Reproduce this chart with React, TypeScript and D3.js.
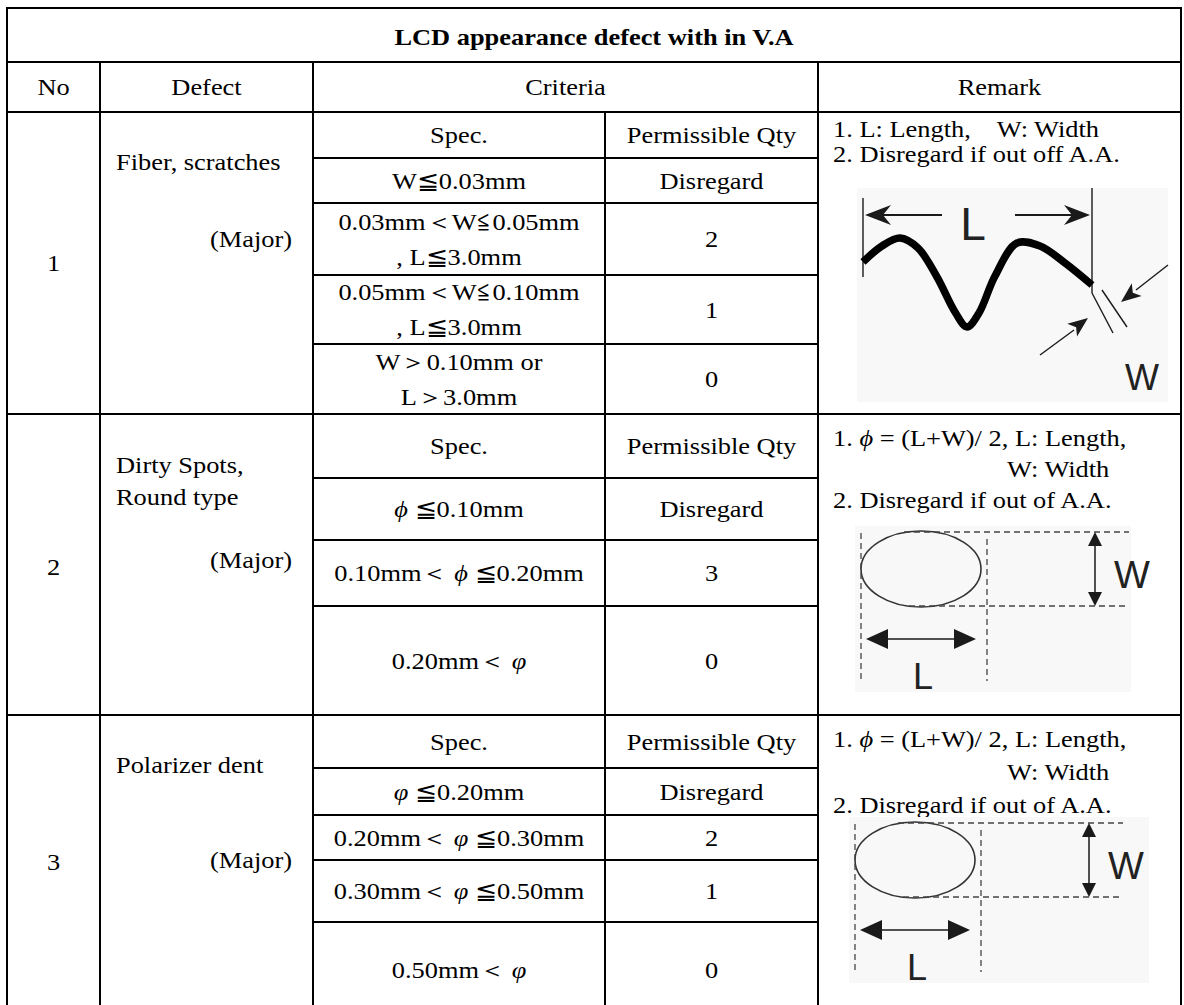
import React, { useEffect, useRef } from "react";
import * as d3 from "d3";

// table content
const title = "LCD appearance defect with in V.A";
const headers = ["No", "Defect", "Criteria", "Remark"];
const subHeaders = ["Spec.", "Permissible Qty"];
const defectNo = ["1", "2", "3"];
const defectName = [["Fiber, scratches"], ["Dirty Spots,", "Round type"], ["Polarizer dent"]];
const defectLevel = ["(Major)", "(Major)", "(Major)"];

const specs1 = [["W≦0.03mm"], ["0.03mm＜W≦0.05mm", ", L≦3.0mm"], ["0.05mm＜W≦0.10mm", ", L≦3.0mm"], ["W＞0.10mm or", "L＞3.0mm"]];
const qty1 = ["Disregard", "2", "1", "0"];
const specs2 = [["ϕ ≦0.10mm"], ["0.10mm＜ ϕ ≦0.20mm"], ["0.20mm＜ φ"]];
const qty2 = ["Disregard", "3", "0"];
const specs3 = [["φ ≦0.20mm"], ["0.20mm＜ φ ≦0.30mm"], ["0.30mm＜ φ ≦0.50mm"], ["0.50mm＜ φ"]];
const qty3 = ["Disregard", "2", "1", "0"];

const remark1 = ["1. L: Length,    W: Width", "2. Disregard if out off A.A."];
const remark2 = ["1. ϕ = (L+W)/ 2, L: Length,", "W: Width", "2. Disregard if out of A.A."];
const remark3 = ["1. ϕ = (L+W)/ 2, L: Length,", "W: Width", "2. Disregard if out of A.A."];

// layout
const W = 1184;
const H = 1005;
const colX = [7, 100, 313, 605, 818, 1181];
const topY = 8;
const titleH = 54;
const headerH = 50;
const rowHeights = [
  [46, 45, 72, 69, 70],
  [64, 62, 66, 109],
  [53, 47, 45, 62, 95],
];
const nameOffset = [50, 51, 50];
const levelOffset = [127, 146, 145];

const serif = '"Liberation Serif", "Times New Roman", serif';
const sans = '"Liberation Sans", Arial, sans-serif';
const FS = 24;
const SX = 1.1; // the source text is a little wider than plain Times

const App: React.FC = () => {
  const svgRef = useRef<SVGSVGElement>(null);

  useEffect(() => {
    document.body.style.margin = "0";
    const svg = d3.select(svgRef.current).attr("width", W).attr("height", H);
    svg.selectAll("*").remove();
    svg.append("rect").attr("width", W).attr("height", H).attr("fill", "#fff");

    const gText = svg.append("g");
    const gDraw = svg.append("g");
    const gLine = svg.append("g").attr("stroke", "#000").attr("stroke-width", 2);

    const addText = (str: string, x: number, y: number, anchor = "middle", bold = false) => {
      const t = gText
        .append("text")
        .attr("transform", `translate(${x},${y}) scale(${SX},1)`)
        .attr("dy", "0.34em")
        .attr("text-anchor", anchor)
        .attr("font-family", serif)
        .attr("font-size", FS)
        .attr("font-weight", bold ? "bold" : "normal")
        .style("white-space", "pre");
      str.split(/([φϕ])/).forEach((part) => {
        if (!part) return;
        const ts = t.append("tspan").text(part);
        if (/[φϕ]/.test(part)) ts.attr("font-style", "italic");
      });
    };

    const hLine = (y: number, x1: number, x2: number) =>
      gLine.append("line").attr("x1", x1).attr("x2", x2).attr("y1", y).attr("y2", y);
    const vLine = (x: number, y1: number, y2: number) =>
      gLine.append("line").attr("x1", x).attr("x2", x).attr("y1", y1).attr("y2", y2);

    const titleBottom = topY + titleH;
    const headerBottom = titleBottom + headerH;
    const bottom = H + 10;

    // outer frame + header lines
    hLine(topY, colX[0] - 1, colX[5] + 1);
    hLine(titleBottom, colX[0], colX[5]);
    hLine(headerBottom, colX[0], colX[5]);
    vLine(colX[0], topY, bottom);
    vLine(colX[5], topY, bottom);
    [colX[1], colX[2], colX[4]].forEach((x) => vLine(x, titleBottom, bottom));
    vLine(colX[3], headerBottom, bottom);

    addText(title, (colX[0] + colX[5]) / 2, topY + titleH / 2 + 2, "middle", true);
    const headerMid = titleBottom + headerH / 2;
    addText(headers[0], (colX[0] + colX[1]) / 2, headerMid);
    addText(headers[1], (colX[1] + colX[2]) / 2, headerMid);
    addText(headers[2], (colX[2] + colX[4]) / 2, headerMid);
    addText(headers[3], (colX[4] + colX[5]) / 2, headerMid);

    const sections = [
      { specs: specs1, qty: qty1 },
      { specs: specs2, qty: qty2 },
      { specs: specs3, qty: qty3 },
    ];

    let y0 = headerBottom;
    const sectionTops: number[] = [];
    sections.forEach((sec, si) => {
      sectionTops.push(y0);
      const heights = rowHeights[si];
      const cum = [0, ...Array.from(d3.cumsum(heights))];
      const secH = cum[cum.length - 1];
      const yAt = d3.scaleLinear().domain([0, secH]).range([y0, y0 + secH]);

      if (si > 0) hLine(y0, colX[0], colX[5]);
      cum.slice(1, -1).forEach((c) => hLine(yAt(c), colX[2], colX[4]));

      const rows = [[subHeaders[0]], ...sec.specs];
      const qtys = [subHeaders[1], ...sec.qty];
      rows.forEach((lines, ri) => {
        const mid = yAt((cum[ri] + cum[ri + 1]) / 2);
        lines.forEach((ln, li) => {
          const dy = (li - (lines.length - 1) / 2) * 35;
          addText(ln, (colX[2] + colX[3]) / 2, mid + dy);
        });
        addText(qtys[ri], (colX[3] + colX[4]) / 2, mid);
      });

      // No / Defect
      const visibleBottom = Math.min(y0 + secH, H);
      addText(defectNo[si], (colX[0] + colX[1]) / 2, (y0 + visibleBottom) / 2 + (si === 0 ? 0 : 2));
      defectName[si].forEach((ln, li) => addText(ln, colX[1] + 16, y0 + nameOffset[si] + li * 32, "start"));
      addText(defectLevel[si], colX[2] - 21, y0 + levelOffset[si], "end");

      y0 += secH;
    });

    // Remark texts
    const rx = colX[4] + 15;
    remark1.forEach((ln, i) => addText(ln, rx, sectionTops[0] + 17 + i * 25, "start"));
    [remark2, remark3].forEach((rm, k) => {
      const top = sectionTops[k + 1];
      const gap = k === 0 ? 31 : 33;
      rm.forEach((ln, i) => addText(ln, i === 1 ? colX[4] + 189 : rx, top + 24 + i * gap, "start"));
    });

    // ---------- drawings ----------
    const ink = "#1a1a1a";
    const tri = (tx: number, ty: number, ang: number, len: number, half: number, notch = 0) => {
      const ca = Math.cos(ang), sa = Math.sin(ang);
      const bx = tx - ca * len, by = ty - sa * len;
      const p1 = [bx - sa * half, by + ca * half];
      const p2 = [bx + sa * half, by - ca * half];
      const n = [tx - ca * (len - notch), ty - sa * (len - notch)];
      const pts = notch ? [[tx, ty], p1, n, p2] : [[tx, ty], p1, p2];
      gDraw.append("path").attr("d", d3.line()(pts as [number, number][]) + "Z").attr("fill", ink);
    };
    const seg = (x1: number, y1: number, x2: number, y2: number, w = 1.4, dash?: string) => {
      const l = gDraw
        .append("line")
        .attr("x1", x1).attr("y1", y1).attr("x2", x2).attr("y2", y2)
        .attr("stroke", ink).attr("stroke-width", w);
      if (dash) l.attr("stroke-dasharray", dash).attr("stroke", "#444");
    };
    const letter = (s: string, x: number, y: number, size: number) =>
      gDraw.append("text").attr("x", x).attr("y", y).attr("text-anchor", "middle")
        .attr("font-family", sans).attr("font-size", size).attr("fill", "#222").text(s);

    // Fiber / scratch figure
    const fx = colX[4], fy = sectionTops[0];
    gDraw.append("rect").attr("x", fx + 39).attr("y", fy + 76).attr("width", 311).attr("height", 214).attr("fill", "#f8f8f8");
    seg(fx + 45, fy + 86, fx + 45, fy + 165);
    seg(fx + 274, fy + 76, fx + 274, fy + 181);
    seg(fx + 124, fy + 103, fx + 62, fy + 103, 2);
    tri(fx + 47, fy + 103, Math.PI, 26, 10, 8);
    seg(fx + 197, fy + 103, fx + 257, fy + 103, 2);
    tri(fx + 272, fy + 103, 0, 26, 10, 8);
    letter("L", fx + 155, fy + 128, 46);
    const wave: [number, number][] = [
      [45, 150], [64, 134], [82, 126], [100, 136], [119, 165], [137, 200], [149, 215],
      [161, 201], [177, 164], [199, 131], [222, 134], [247, 151], [274, 173],
    ];
    gDraw.append("path")
      .attr("d", d3.line().curve(d3.curveCatmullRom.alpha(0.5))(wave.map(([a, b]) => [fx + a, fy + b])))
      .attr("fill", "none").attr("stroke", "#000").attr("stroke-width", 7.5);
    seg(fx + 274, fy + 181, fx + 295, fy + 221);
    seg(fx + 284, fy + 178, fx + 309, fy + 215);
    seg(fx + 350, fy + 153, fx + 318, fy + 178, 1.4);
    tri(fx + 303, fy + 190, Math.atan2(37, -47), 20, 8, 5);
    seg(fx + 222, fy + 243, fx + 256, fy + 218, 1.4);
    tri(fx + 270, fy + 206, Math.atan2(-37, 48), 20, 8, 5);
    letter("W", fx + 324, fy + 278, 36);

    // Round spot figures
    const ellipseFig = (cx: number, cy: number, bgW: number) => {
      gDraw.append("rect").attr("x", cx - 66).attr("y", cy - 43).attr("width", bgW).attr("height", 166).attr("fill", "#f8f8f8");
      gDraw.append("ellipse").attr("cx", cx).attr("cy", cy).attr("rx", 60).attr("ry", 38)
        .attr("fill", "none").attr("stroke", "#333").attr("stroke-width", 1.6);
      seg(cx - 17, cy - 37, cx + 208, cy - 37, 1.3, "6,4");
      seg(cx - 12, cy + 37, cx + 208, cy + 37, 1.3, "6,4");
      seg(cx - 60, cy - 36, cx - 60, cy + 112, 1.3, "6,4");
      seg(cx + 66, cy - 30, cx + 66, cy + 112, 1.3, "6,4");
      seg(cx + 174, cy - 25, cx + 174, cy + 25, 1.5);
      tri(cx + 174, cy - 37, -Math.PI / 2, 14, 7);
      tri(cx + 174, cy + 37, Math.PI / 2, 14, 7);
      letter("W", cx + 211, cy + 19, 38);
      seg(cx - 34, cy + 70, cx + 34, cy + 70, 1.5);
      tri(cx - 55, cy + 70, Math.PI, 22, 10);
      tri(cx + 55, cy + 70, 0, 22, 10);
      letter("L", cx + 2, cy + 120, 36);
    };
    ellipseFig(colX[4] + 103, sectionTops[1] + 155, 276);
    ellipseFig(colX[4] + 97, sectionTops[2] + 145, 300);
  }, []);

  return <svg ref={svgRef} style={{ display: "block" }}></svg>;
};

export default App;
